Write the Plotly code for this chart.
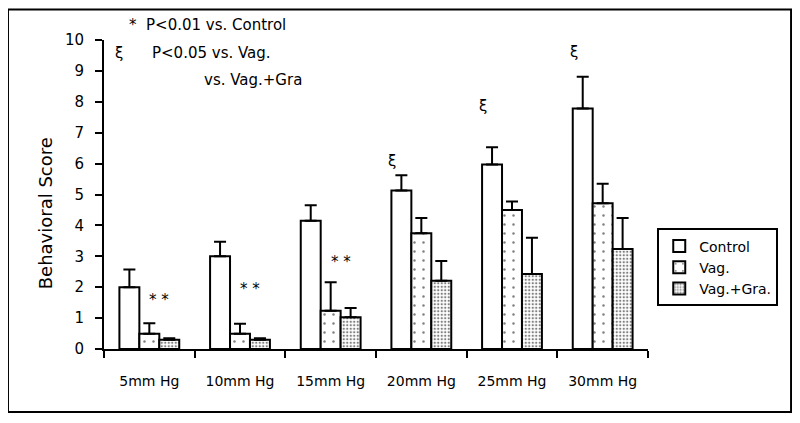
import plotly.graph_objects as go

categories = ["5mm Hg", "10mm Hg", "15mm Hg", "20mm Hg", "25mm Hg", "30mm Hg"]
control = [2.0, 3.0, 4.15, 5.13, 5.97, 7.78]
control_err = [0.57, 0.47, 0.5, 0.49, 0.56, 1.03]
vag = [0.49, 0.49, 1.24, 3.75, 4.5, 4.72]
vag_err = [0.34, 0.33, 0.92, 0.49, 0.27, 0.63]
vaggra = [0.3, 0.3, 1.03, 2.21, 2.43, 3.24]
vaggra_err = [0.05, 0.05, 0.3, 0.64, 1.17, 1.0]
star_cats = ["5mm Hg", "10mm Hg", "15mm Hg"]
star_y = [1.6, 1.95, 2.8]
xi_cats = ["20mm Hg", "25mm Hg", "30mm Hg"]
xi_y = [6.1, 7.85, 9.6]

FONT = "DejaVu Sans"
NB = "\u00a0"

def err(a):
    return dict(type="data", array=a, arrayminus=[0] * len(a), symmetric=False,
                color="black", thickness=2, width=6)

fig = go.Figure()
fig.add_trace(go.Bar(name="Control", x=categories, y=control, error_y=err(control_err),
                     marker=dict(color="white", line=dict(color="black", width=2))))
fig.add_trace(go.Bar(name="Vag.", x=categories, y=vag, error_y=err(vag_err),
                     marker=dict(color="white", line=dict(color="black", width=2),
                                 pattern=dict(shape=".", fgcolor="black", bgcolor="white",
                                              size=9, solidity=0.06, fillmode="overlay"))))
fig.add_trace(go.Bar(name="Vag.+Gra.", x=categories, y=vaggra, error_y=err(vaggra_err),
                     marker=dict(color="white", line=dict(color="black", width=2),
                                 pattern=dict(shape=".", fgcolor="black", bgcolor="white",
                                              size=3.5, solidity=0.35, fillmode="overlay"))))

anns = []
for c, y in zip(star_cats, star_y):
    anns.append(dict(x=c, y=y, xref="x", yref="y", text="* *", showarrow=False,
                     xshift=10, xanchor="center", yanchor="middle",
                     font=dict(family=FONT, size=15, color="black")))
for c, y in zip(xi_cats, xi_y):
    anns.append(dict(x=c, y=y, xref="x", yref="y", text="ξ", showarrow=False,
                     xshift=-29, xanchor="center", yanchor="middle",
                     font=dict(family=FONT, size=15, color="black")))
anns += [
    dict(x=0.042, y=1.05, xref="paper", yref="paper", xanchor="left", yanchor="middle",
         showarrow=False, text="*" + NB * 2 + "P<0.01 vs. Control",
         font=dict(family=FONT, size=15, color="black")),
    dict(x=0.017, y=0.958, xref="paper", yref="paper", xanchor="left", yanchor="middle",
         showarrow=False, text="ξ" + NB * 6 + "P<0.05 vs. Vag.",
         font=dict(family=FONT, size=15, color="black")),
    dict(x=0.18, y=0.872, xref="paper", yref="paper", xanchor="left", yanchor="middle",
         showarrow=False, text="vs. Vag.+Gra",
         font=dict(family=FONT, size=15, color="black")),
    dict(x=-0.108, y=0.44, xref="paper", yref="paper", xanchor="center", yanchor="middle",
         textangle=-90, showarrow=False, text="Behavioral Score",
         font=dict(family=FONT, size=18, color="black")),
]

fig.update_layout(
    template="none",
    width=792, height=415,
    margin=dict(l=96, r=152, t=32, b=74, autoexpand=False),
    paper_bgcolor="white", plot_bgcolor="white",
    barmode="group", bargap=0.34, bargroupgap=0,
    font=dict(family=FONT, size=14, color="black"),
    showlegend=True,
    legend=dict(x=1.017, y=0.39, xanchor="left", yanchor="top",
                bordercolor="black", borderwidth=2, bgcolor="white",
                font=dict(family=FONT, size=14, color="black"),
                itemwidth=30, tracegroupgap=0),
    annotations=anns,
    shapes=[dict(type="rect", xref="paper", yref="paper",
                 x0=-0.1765, x1=1.263, y0=-0.204, y1=1.099,
                 line=dict(color="black", width=2))],
)
fig.update_xaxes(automargin=False, showline=True, linecolor="black", linewidth=2,
                 ticks="outside", tickson="boundaries", ticklen=7, tickwidth=2,
                 tickcolor="black", ticklabelstandoff=18, showgrid=False, zeroline=False,
                 tickfont=dict(family=FONT, size=14, color="black"))
fig.update_yaxes(automargin=False, range=[0, 10], dtick=1, showline=True, linecolor="black",
                 linewidth=2, ticks="outside", ticklen=7, tickwidth=2, tickcolor="black",
                 ticklabelstandoff=8, showgrid=False, zeroline=False,
                 tickfont=dict(family=FONT, size=15, color="black"))

fig.write_html("out.html")
